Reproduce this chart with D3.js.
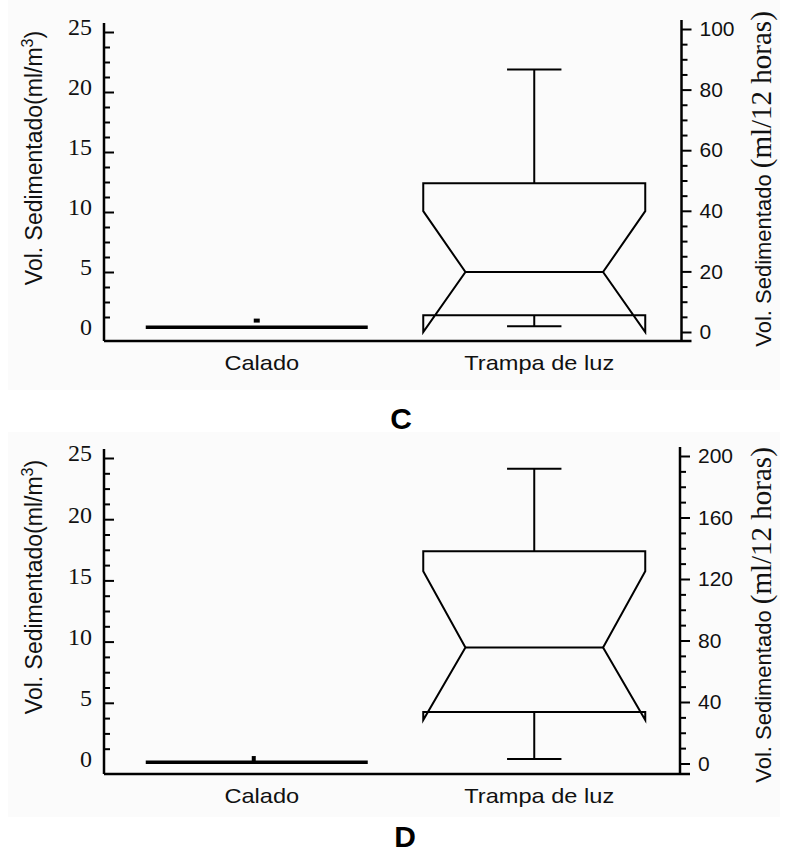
<!DOCTYPE html>
<html>
<head>
<meta charset="utf-8">
<script src="https://cdn.jsdelivr.net/npm/d3@7"></script>
<style>
  body { margin: 0; background: #ffffff; }
  svg { display: block; }
</style>
</head>
<body>
<div id="container"></div>
<script>
// categories on the x axis
var categories = ["Calado", "Trampa de luz"];

// tick labels
var leftTicks = [0, 5, 10, 15, 20, 25];
var rightTicksC = [0, 20, 40, 60, 80, 100];
var rightTicksD = [0, 40, 80, 120, 160, 200];

// Calado (ml/m3): [line value, upper mark]
var caladoC = [0.4, 0.95];
var caladoD = [0.15, 0.65];

// Trampa de luz (ml/12 horas): [min, q1, median, q3, max, notch low, notch high]
var trampaC = [1.9, 5.5, 19.8, 49.1, 86.6, 0, 39.9];
var trampaD = [3, 33.5, 75.4, 138, 191.7, 28.3, 125];

var svg = d3.select("#container")
  .append("svg")
  .attr("width", 788)
  .attr("height", 853);

// panel layouts
var panels = [
  {letter: "C", letterX: 401, letterY: 429, bgTop: 0, bgBottom: 390,
   yL: [332, 32], yR: [332, 29], rightTicks: rightTicksC, rightMinor: 5,
   axisL: 104, axisR: 681.5, topL: 23, topR: 20, base: 341,
   catY: 370, leftTitleY: 158, rightTitleY: 179,
   calado: caladoC, caladoMark: "dot", trampa: trampaC},
  {letter: "D", letterX: 405, letterY: 847, bgTop: 432, bgBottom: 817,
   yL: [764, 458], yR: [763.5, 456], rightTicks: rightTicksD, rightMinor: 10,
   axisL: 104, axisR: 680, topL: 449, topR: 447, base: 774,
   catY: 803, leftTitleY: 587, rightTitleY: 615,
   calado: caladoD, caladoMark: "whisker", trampa: trampaD}
];

panels.forEach(drawPanel);

function drawPanel(p) {
  var g = svg.append("g");

  // faint panel background
  g.append("rect")
    .attr("x", 8).attr("y", p.bgTop)
    .attr("width", 772).attr("height", p.bgBottom - p.bgTop)
    .attr("fill", "#fbfbfb");

  var yL = d3.scaleLinear().domain([0, 25]).range(p.yL);
  var rMax = p.rightTicks[p.rightTicks.length - 1];
  var yR = d3.scaleLinear().domain([0, rMax]).range(p.yR);
  var x = d3.scaleBand().domain(categories).range([118, 673]).padding(0);
  var bw = x.bandwidth() * 0.8;

  // left axis: minor ticks every 1.25, major every 5, ticks point inward
  var minorL = d3.range(1.25, 25.01, 1.25).filter(function(v) { return v % 5 !== 0; });
  g.append("g")
    .attr("transform", "translate(" + p.axisL + ",0)")
    .call(d3.axisRight(yL).tickValues(minorL).tickSize(6).tickFormat(""))
    .call(function(a) { a.select(".domain").remove(); });
  var la = g.append("g")
    .attr("transform", "translate(" + p.axisL + ",0)")
    .call(d3.axisLeft(yL).tickValues(leftTicks).tickSize(-10).tickPadding(12));
  la.select(".domain").remove();
  la.selectAll(".tick").filter(function(d) { return d === 0; }).select("line").remove();
  la.selectAll(".tick text")
    .attr("font-family", "'Liberation Serif', 'Times New Roman', serif")
    .attr("font-size", 24)
    .attr("fill", "#111")
    .attr("dy", "0.12em");

  // right axis
  var minorR = d3.range(0, rMax + 0.01, p.rightMinor).filter(function(v) { return p.rightTicks.indexOf(v) < 0; });
  g.append("g")
    .attr("transform", "translate(" + p.axisR + ",0)")
    .call(d3.axisRight(yR).tickValues(minorR).tickSize(6).tickFormat(""))
    .call(function(a) { a.select(".domain").remove(); });
  var ra = g.append("g")
    .attr("transform", "translate(" + p.axisR + ",0)")
    .call(d3.axisRight(yR).tickValues(p.rightTicks).tickSize(10).tickPadding(8));
  ra.select(".domain").remove();
  ra.selectAll(".tick text")
    .attr("font-family", "'Liberation Sans', Arial, sans-serif")
    .attr("font-size", 21)
    .attr("fill", "#111");

  g.selectAll(".tick line").attr("stroke", "#000").attr("stroke-width", 2);

  // axis lines
  g.append("line").attr("x1", p.axisL).attr("x2", p.axisL).attr("y1", p.topL).attr("y2", p.base)
    .attr("stroke", "#000").attr("stroke-width", 2.5);
  g.append("line").attr("x1", p.axisR).attr("x2", p.axisR).attr("y1", p.topR).attr("y2", p.base)
    .attr("stroke", "#000").attr("stroke-width", 2.5);
  g.append("line").attr("x1", p.axisL).attr("x2", p.axisR + 10).attr("y1", p.base).attr("y2", p.base)
    .attr("stroke", "#000").attr("stroke-width", 2.5);

  // Calado: collapsed box drawn as a thick line
  var cx = x("Calado") + x.bandwidth() / 2;
  g.append("line")
    .attr("x1", cx - bw / 2).attr("x2", cx + bw / 2)
    .attr("y1", yL(p.calado[0])).attr("y2", yL(p.calado[0]))
    .attr("stroke", "#000").attr("stroke-width", 3.5);
  if (p.caladoMark === "dot") {
    g.append("rect")
      .attr("x", cx - 3).attr("y", yL(p.calado[1]) - 2)
      .attr("width", 6).attr("height", 4)
      .attr("fill", "#000");
  } else {
    g.append("line")
      .attr("x1", cx - 3).attr("x2", cx - 3)
      .attr("y1", yL(p.calado[0])).attr("y2", yL(p.calado[1]))
      .attr("stroke", "#000").attr("stroke-width", 4);
  }

  // Trampa de luz: notched box plot on the right axis scale
  var t = p.trampa;
  var tx = x("Trampa de luz") + x.bandwidth() / 2;
  var L = tx - bw / 2, R = tx + bw / 2;
  var inset = bw * 0.19;
  var cap = bw * 0.245;
  var box = [
    [L, yR(t[3])], [R, yR(t[3])], [R, yR(t[6])], [R - inset, yR(t[2])],
    [R, yR(t[5])], [R, yR(t[1])], [L, yR(t[1])], [L, yR(t[5])],
    [L + inset, yR(t[2])], [L, yR(t[6])]
  ];
  g.append("path")
    .attr("d", d3.line()(box) + "Z")
    .attr("fill", "none")
    .attr("stroke", "#000")
    .attr("stroke-width", 2)
    .attr("stroke-linejoin", "miter");
  // median
  g.append("line")
    .attr("x1", L + inset).attr("x2", R - inset)
    .attr("y1", yR(t[2])).attr("y2", yR(t[2]))
    .attr("stroke", "#000").attr("stroke-width", 2);
  // whiskers
  [[t[3], t[4]], [t[1], t[0]]].forEach(function(w) {
    g.append("line")
      .attr("x1", tx).attr("x2", tx)
      .attr("y1", yR(w[0])).attr("y2", yR(w[1]))
      .attr("stroke", "#000").attr("stroke-width", 2);
    g.append("line")
      .attr("x1", tx - cap / 2).attr("x2", tx + cap / 2)
      .attr("y1", yR(w[1])).attr("y2", yR(w[1]))
      .attr("stroke", "#000").attr("stroke-width", 2);
  });

  // category labels
  categories.forEach(function(c) {
    g.append("text")
      .attr("transform", "translate(" + (x(c) + x.bandwidth() / 2 + 5) + "," + p.catY + ") scale(1.18,1)")
      .attr("text-anchor", "middle")
      .attr("font-family", "'Liberation Sans', Arial, sans-serif")
      .attr("font-size", 20)
      .attr("fill", "#111")
      .text(c);
  });

  // left axis title
  var lt = g.append("text")
    .attr("transform", "translate(42," + p.leftTitleY + ") rotate(-90)")
    .attr("text-anchor", "middle")
    .attr("font-family", "'Liberation Sans', Arial, sans-serif")
    .attr("font-size", 23)
    .attr("fill", "#111");
  lt.append("tspan").text("Vol. Sedimentado(ml/m");
  lt.append("tspan").attr("dy", -9).attr("font-size", 16).text("3");
  lt.append("tspan").attr("dy", 9).text(")");

  // right axis title
  var rt = g.append("text")
    .attr("transform", "translate(771," + p.rightTitleY + ") rotate(-90)")
    .attr("text-anchor", "middle")
    .attr("fill", "#111");
  rt.append("tspan")
    .attr("font-family", "'Liberation Sans', Arial, sans-serif")
    .attr("font-size", 22)
    .text("Vol. Sedimentado ");
  rt.append("tspan")
    .attr("font-family", "'Liberation Serif', 'Times New Roman', serif")
    .attr("font-size", 29)
    .text("(ml/12 horas)");

  // panel letter
  svg.append("text")
    .attr("x", p.letterX).attr("y", p.letterY)
    .attr("text-anchor", "middle")
    .attr("font-family", "'Liberation Sans', Arial, sans-serif")
    .attr("font-weight", "bold")
    .attr("font-size", 30)
    .attr("fill", "#000")
    .text(p.letter);
}
</script>
</body>
</html>
